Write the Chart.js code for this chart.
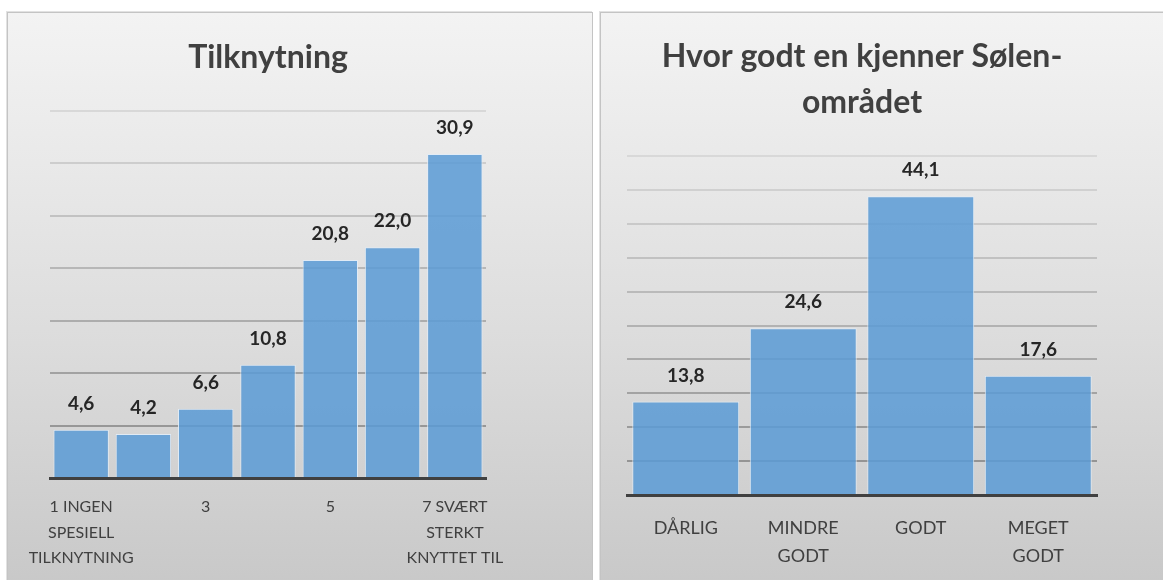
<!DOCTYPE html>
<html>
<head>
<meta charset="utf-8">
<script src="https://cdn.jsdelivr.net/npm/chart.js@4.4.0/dist/chart.umd.min.js"></script>
<style>
  body { margin: 0; background: #fff; width: 1163px; height: 580px; overflow: hidden; position: relative; }
  .panel {
    position: absolute; top: 12px; height: 600px;
    border: 1px solid #c4c4c4;
    background: linear-gradient(to bottom, #f3f3f3 0%, #e9e9e9 25%, #dcdcdc 55%, #c6c6c6 100%);
    box-shadow: -1px -1px 0 #e2e2e2;
  }
  #left { left: 7px; width: 584px; }
  #right { left: 600px; width: 580px; }
  .panel canvas { position: absolute; left: 0; top: 0; }
</style>
</head>
<body>
<div class="panel" id="left"><canvas id="tilkChart" width="583" height="567"></canvas></div>
<div class="panel" id="right"><canvas id="kjennChart" width="562" height="567"></canvas></div>
<script>
// ===== Data =====
const tilkTitle = "Tilknytning";
const tilkLabels = [["1 INGEN", "SPESIELL", "TILKNYTNING"], "2", "3", "4", "5", "6", ["7 SVÆRT", "STERKT", "KNYTTET TIL"]];
const tilkValues = [4.6, 4.2, 6.6, 10.8, 20.8, 22.0, 30.9];

const kjennTitle = ["Hvor godt en kjenner Sølen-", "området"];
const kjennLabels = ["DÅRLIG", ["MINDRE", "GODT"], "GODT", ["MEGET", "GODT"]];
const kjennValues = [13.8, 24.6, 44.1, 17.6];

const FONT = "Lato, 'Open Sans', sans-serif";

// value labels over bars (comma decimal)
const valueLabels = {
    id: "valueLabels",
    afterDatasetsDraw(chart) {
        const ctx = chart.ctx;
        const meta = chart.getDatasetMeta(0);
        ctx.save();
        ctx.font = "bold 19px " + FONT;
        ctx.fillStyle = "#262626";
        ctx.textAlign = "center";
        ctx.textBaseline = "middle";
        meta.data.forEach((bar, i) => {
            const v = chart.data.datasets[0].data[i];
            ctx.fillText(v.toFixed(1).replace(".", ","), bar.x, bar.y - 26);
        });
        ctx.restore();
    }
};

// gridlines get darker towards the bottom
function gridColor(max){
    return c => {
        const t = 1 - (c.tick ? c.tick.value : 0) / max;
        const g = Math.round(0xd8 - t * 0x4c);
        return `rgb(${g},${g},${g})`;
    };
}

function makeChart(id, labels, values, title, opts){
    return new Chart(document.getElementById(id), {
        type: "bar",
        data: {
            labels: labels,
            datasets: [{
                data: values,
                backgroundColor: "rgba(91,155,213,0.86)",
                borderColor: "rgba(225,236,247,0.9)",
                borderWidth: 1,
                barPercentage: opts.barPct,
                categoryPercentage: 1
            }]
        },
        options: {
            responsive: false,
            animation: false,
            layout: { padding: { left: opts.padLeft, right: opts.padRight, top: 0, bottom: 0 } },
            plugins: {
                legend: { display: false },
                tooltip: { enabled: false },
                title: {
                    display: true,
                    text: title,
                    color: "#404040",
                    font: { family: FONT, size: 32, weight: "bold", lineHeight: 1.44 },
                    padding: { top: opts.titleTop, bottom: opts.titleBottom }
                }
            },
            scales: {
                x: {
                    z: 1,
                    grid: { display: false, drawTicks: false },
                    border: { display: true, color: "#404040", width: 3 },
                    afterFit: s => { s.height = opts.xHeight; },
                    ticks: {
                        autoSkip: false,
                        maxRotation: 0,
                        padding: opts.tickPad,
                        color: "#404040",
                        font: { family: FONT, size: opts.tickSize, lineHeight: opts.tickLH },
                        callback: (v, i) => (i % opts.every === 0 ? labels[i] : "")
                    }
                },
                y: {
                    min: 0,
                    max: opts.max,
                    ticks: { display: false, stepSize: 5 },
                    border: { display: false },
                    grid: { color: gridColor(opts.max), lineWidth: 2, drawTicks: false },
                    afterFit: s => { s.width = 0; }
                }
            }
        },
        plugins: [valueLabels]
    });
}

makeChart("tilkChart", tilkLabels, tilkValues, tilkTitle, {
    max: 35, barPct: 0.89, padLeft: 42, padRight: 105,
    titleTop: 22, titleBottom: 30, xHeight: 102,
    tickPad: 16, tickSize: 16, tickLH: 1.6, every: 2
});

makeChart("kjennChart", kjennLabels, kjennValues, kjennTitle, {
    max: 50, barPct: 0.91, padLeft: 26, padRight: 66,
    titleTop: 21, titleBottom: 30, xHeight: 85,
    tickPad: 19, tickSize: 18, tickLH: 1.55, every: 1
});
</script>
</body>
</html>
